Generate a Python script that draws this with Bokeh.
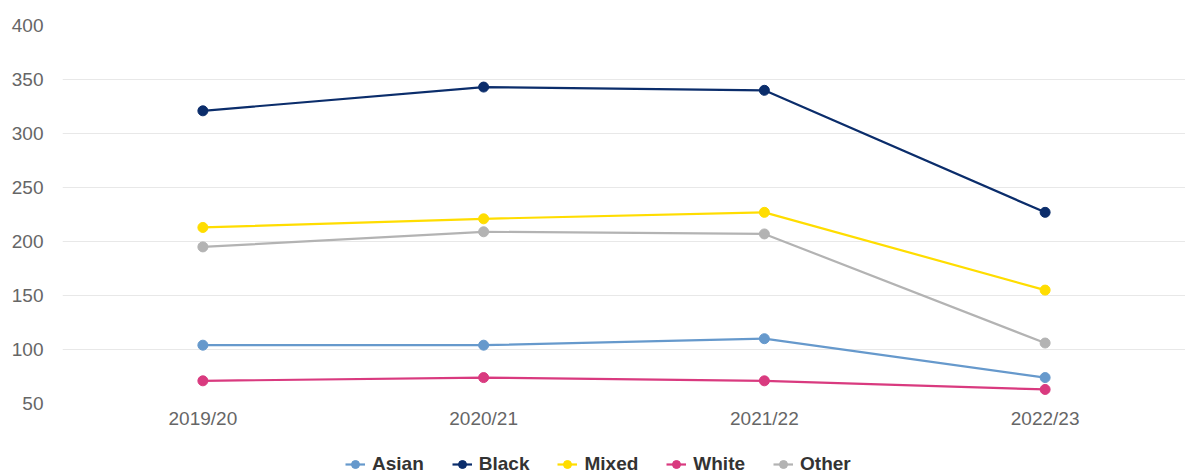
from bokeh.plotting import figure
from bokeh.models import Range1d, FactorRange, Legend, LegendItem
from bokeh.layouts import column
from bokeh.embed import file_html
from bokeh.resources import INLINE

years = ["2019/20", "2020/21", "2021/22", "2022/23"]
asian = [104, 104, 110, 74]
black = [321, 343, 340, 227]
mixed = [213, 221, 227, 155]
white = [71, 74, 71, 63]
other = [195, 209, 207, 106]
y_ticks = [50, 100, 150, 200, 250, 300, 350, 400]

series = [
    ("Asian", asian, "#6699cc"),
    ("Black", black, "#0b2d6b"),
    ("Mixed", mixed, "#ffdd00"),
    ("White", white, "#d93a7f"),
    ("Other", other, "#b3b3b3"),
]

p = figure(width=1185, height=440, output_backend="svg", toolbar_location=None,
           x_range=FactorRange(*years, range_padding=0), y_range=Range1d(50, 400),
           min_border_left=62, min_border_right=0, min_border_top=25, min_border_bottom=37)
p.outline_line_color = None
p.background_fill_color = "white"
p.border_fill_color = "white"

p.xgrid.grid_line_color = None
p.ygrid.grid_line_color = "#e8e8e8"
p.ygrid.grid_line_width = 1
p.yaxis.ticker = y_ticks

for ax in (p.xaxis, p.yaxis):
    ax.axis_line_color = None
    ax.major_tick_line_color = None
    ax.minor_tick_line_color = None
    ax.major_tick_out = 0
    ax.major_tick_in = 0
    ax.minor_tick_out = 0
    ax.major_label_text_font = "Liberation Sans"
    ax.major_label_text_font_size = "19px"
    ax.major_label_text_color = "#666666"
p.yaxis.major_label_standoff = 19
p.xaxis.major_label_standoff = 4

for name, vals, col in series:
    p.line(years, vals, line_color=col, line_width=2.2)
    p.scatter(years, vals, size=10, fill_color=col, line_color=col)

# legend strip below the chart (its renderers lie outside its visible range)
lf = figure(width=1185, height=35, output_backend="svg", toolbar_location=None,
            x_range=FactorRange(*years), y_range=Range1d(-2, -1),
            min_border_left=0, min_border_right=0, min_border_top=0, min_border_bottom=0)
lf.axis.visible = False
lf.grid.visible = False
lf.outline_line_color = None
items = []
for name, vals, col in series:
    r1 = lf.line(years, vals, line_color=col, line_width=2.2)
    r2 = lf.scatter(years, vals, size=10, fill_color=col, line_color=col)
    items.append(LegendItem(label=name, renderers=[r1, r2]))

legend = Legend(items=items, orientation="horizontal", location=(283, 0),
                border_line_color=None, background_fill_alpha=0,
                padding=0, margin=0, spacing=28, glyph_width=20, glyph_height=20,
                label_standoff=7, label_text_font="Liberation Sans",
                label_text_font_style="bold", label_text_font_size="19px",
                label_text_color="#333333", label_height=20)
lf.add_layout(legend, "center")

open("out.html", "w").write(file_html(column(p, lf), INLINE))
